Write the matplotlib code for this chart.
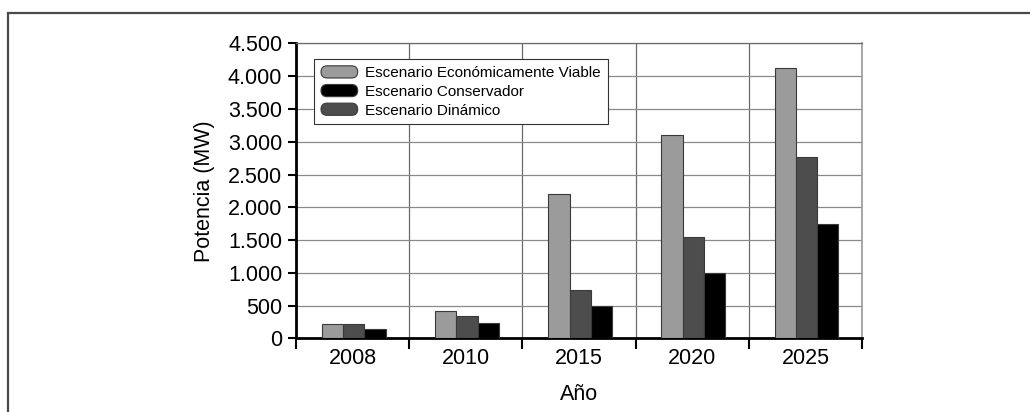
import numpy as np
import matplotlib
matplotlib.use("Agg")
import matplotlib.pyplot as plt
from matplotlib.patches import Rectangle, FancyBboxPatch, Patch
from matplotlib.legend_handler import HandlerPatch
from matplotlib.ticker import FuncFormatter, FixedLocator

plt.rcParams['font.family'] = ['Liberation Sans', 'DejaVu Sans']

years = ['2008', '2010', '2015', '2020', '2025']
viable = [220, 420, 2200, 3100, 4120]
dinamico = [220, 340, 735, 1550, 2760]
conservador = [140, 240, 500, 1000, 1750]

c_viable = '#9b9b9b'
c_dinamico = '#4d4d4d'
c_conserv = '#000000'

fig = plt.figure(figsize=(10.3, 4.12), dpi=100)
ax = fig.add_axes([0.2874, 0.1784, 0.5495, 0.7165])

# outer frame of the chart area
frame = Rectangle((0.0078, -0.1), 1.2, 1.0684, transform=fig.transFigure,
                  fill=False, edgecolor='#4a4a4a', linewidth=1.6, clip_on=False)
fig.patches.append(frame)

x = np.arange(len(years))
w = 0.188
off = 0.01
edge = '#3a3a3a'
ax.bar(x + off - w, viable, w, color=c_viable, edgecolor=edge, linewidth=0.8, zorder=3)
ax.bar(x + off, dinamico, w, color=c_dinamico, edgecolor=edge, linewidth=0.8, zorder=3)
ax.bar(x + off + w, conservador, w, color=c_conserv, edgecolor=edge, linewidth=0.8, zorder=3)

ax.set_xlim(-0.5, 4.5)
ax.set_ylim(0, 4500)
ax.set_yticks(np.arange(0, 4501, 500))
ax.yaxis.set_major_formatter(FuncFormatter(lambda v, p: f'{int(v):,}'.replace(',', '.')))

# category boundaries as major ticks, labels at centres
ax.xaxis.set_major_locator(FixedLocator(np.arange(-0.5, 5, 1)))
ax.xaxis.set_minor_locator(FixedLocator(x))
ax.set_xticklabels([], minor=False)
ax.set_xticklabels(years, minor=True)
ax.tick_params(axis='x', which='major', direction='out', length=8, width=1.5, color='black')
ax.tick_params(axis='x', which='minor', length=0, pad=7, labelsize=15.5)
ax.tick_params(axis='y', direction='out', length=6, width=1.5, labelsize=15.5, pad=4)

ax.grid(axis='y', color='#8a8a8a', linewidth=0.9, zorder=0)
ax.grid(axis='x', which='major', color='#6a6a6a', linewidth=0.9, zorder=0)
ax.set_axisbelow(True)

for s in ['left', 'bottom']:
    ax.spines[s].set_linewidth(2.0)
    ax.spines[s].set_color('black')
ax.spines['top'].set_color('#6a6a6a')
ax.spines['top'].set_linewidth(0.9)
ax.spines['right'].set_color('#9a9a9a')
ax.spines['right'].set_linewidth(1.2)

ax.set_xlabel('Año', fontsize=15.5, labelpad=11)
ax.set_ylabel('Potencia (MW)', fontsize=15.5, labelpad=9)


def pill(legend, orig_handle, xdescent, ydescent, width, height, fontsize):
    return FancyBboxPatch((-xdescent, -ydescent), width, height,
                          boxstyle=f"round,pad=0,rounding_size={height / 2}")


handles = [Patch(facecolor=c_viable, edgecolor=edge, linewidth=0.8),
           Patch(facecolor=c_conserv, edgecolor=edge, linewidth=0.8),
           Patch(facecolor=c_dinamico, edgecolor=edge, linewidth=0.8)]
labels = ['Escenario Económicamente Viable', 'Escenario Conservador', 'Escenario Dinámico']

leg = ax.legend(handles, labels, loc='upper left', bbox_to_anchor=(0.032, 0.947),
                borderaxespad=0, fontsize=11, frameon=True, fancybox=False,
                framealpha=1, edgecolor='#333333', handlelength=2.4,
                handleheight=0.85, handletextpad=0.5, labelspacing=0.28,
                borderpad=0.45, handler_map={Patch: HandlerPatch(patch_func=pill)})
leg.get_frame().set_linewidth(0.8)
leg.set_zorder(5)

fig.savefig('out.png', dpi=100)
